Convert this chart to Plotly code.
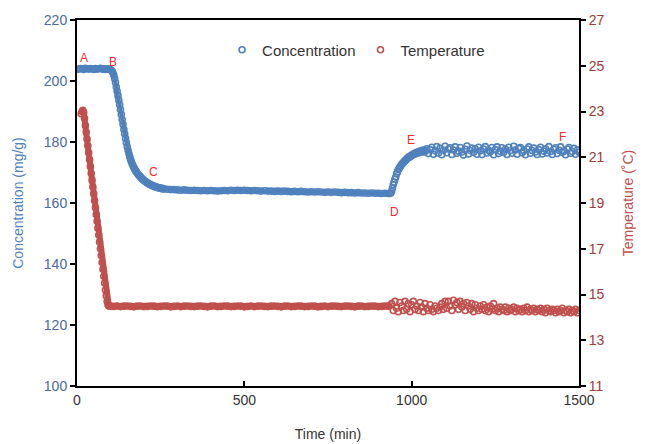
import plotly.graph_objects as go

# ---------------- data ----------------
conc_time = (list(range(5, 101, 5))
             + [102.5 + 2.5 * i for i in range(64)]
             + list(range(270, 931, 10))
             + [935 + 2.5 * i for i in range(43)]
             + list(range(1045, 1501, 5)))

conc_values = [
    # flat start (A-B)
    203.9, 204.1, 204.0, 203.8, 204.2, 204.0, 203.9, 204.1, 204.0, 203.8,
    204.1, 203.9, 204.0, 204.2, 203.9, 204.0, 203.8, 204.0, 203.9, 203.7,
    # drop (B-C)
    203.5, 203.2, 202.7, 201.9, 200.8, 199.5, 198.0, 196.6, 195.2, 193.7,
    192.2, 190.6, 189.0, 187.4, 185.8, 184.2, 182.7, 181.2, 179.8, 178.5,
    177.3, 176.2, 175.2, 174.3, 173.5, 172.8, 172.2, 171.6, 171.1, 170.6,
    170.2, 169.8, 169.4, 169.1, 168.8, 168.5, 168.2, 167.9, 167.7, 167.4,
    167.2, 167.0, 166.8, 166.6, 166.4, 166.3, 166.1, 166.0, 165.9, 165.7,
    165.6, 165.5, 165.4, 165.3, 165.2, 165.1, 165.0, 165.0, 164.9, 164.8,
    164.8, 164.7, 164.7, 164.6,
    # plateau (C-D)
    164.5, 164.4, 164.4, 164.3, 164.2, 164.3, 164.2, 164.1, 164.2, 164.1,
    164.0, 164.1, 164.0, 164.1, 164.0, 163.9, 164.0, 164.1, 164.0, 164.2,
    164.1, 164.2, 164.1, 164.2, 164.1, 164.0, 164.1, 164.0, 163.9, 164.0,
    163.9, 163.9, 163.8, 163.9, 163.8, 163.9, 163.8, 163.7, 163.8, 163.7,
    163.8, 163.7, 163.6, 163.7, 163.6, 163.7, 163.6, 163.5, 163.6, 163.5,
    163.6, 163.5, 163.4, 163.5, 163.4, 163.4, 163.3, 163.4, 163.3, 163.3,
    163.2, 163.3, 163.2, 163.2, 163.1, 163.2, 163.1,
    # rise (D-E)
    163.1, 163.3, 163.8, 164.8, 166.0, 166.9, 167.8, 168.5, 169.6, 170.2,
    171.0, 171.3, 171.9, 172.1, 172.7, 172.9, 173.3, 173.6, 173.8, 174.2,
    174.3, 174.7, 174.8, 175.2, 175.1, 175.5, 175.6, 175.9, 175.8, 176.2,
    176.1, 176.5, 176.3, 176.7, 176.5, 176.9, 176.6, 177.1, 176.8, 177.3,
    176.7, 177.4, 176.9,
    # noisy plateau (E-F)
    177.8, 176.2, 177.5, 178.3, 176.0, 177.1, 178.5, 176.4, 177.9, 175.8,
    177.3, 178.6, 176.5, 177.7, 178.1, 175.9, 177.4, 178.4, 176.3, 177.0,
    178.2, 176.7, 175.7, 177.6, 178.7, 176.1, 177.2, 178.0, 176.6, 177.8,
    176.0, 178.3, 177.1, 175.9, 177.7, 178.5, 176.4, 177.3, 176.8, 178.2,
    175.8, 177.5, 178.4, 176.2, 177.0, 178.1, 176.6, 177.6, 175.9, 178.3,
    177.2, 176.3, 178.6, 177.4, 176.0, 177.9, 178.2, 176.5, 177.1, 175.8,
    177.7, 178.4, 176.3, 177.2, 178.0, 176.7, 175.9, 177.5, 178.3, 176.1,
    177.0, 177.8, 176.4, 178.5, 176.9, 175.9, 177.6, 178.1, 176.2, 177.3,
    178.4, 176.6, 177.0, 175.8, 177.7, 178.2, 176.3, 176.9, 177.9, 176.0,
    177.4, 176.6,
]

temp_time = ([12.5 + 2.5 * i for i in range(36)]
             + list(range(110, 931, 10))
             + list(range(940, 1501, 5)))

temp_values = [
    # cooling ramp
    22.9, 23.0, 23.05, 22.95, 22.7, 22.4, 22.1, 21.8, 21.5, 21.2,
    20.9, 20.6, 20.3, 20.0, 19.7, 19.4, 19.1, 18.8, 18.5, 18.2,
    17.9, 17.6, 17.3, 17.0, 16.7, 16.4, 16.1, 15.8, 15.5, 15.2,
    14.95, 14.7, 14.55, 14.5, 14.5, 14.5,
    # steady
    14.48, 14.5, 14.47, 14.49, 14.5, 14.48, 14.46, 14.49, 14.5, 14.47,
    14.48, 14.5, 14.49, 14.47, 14.48, 14.5, 14.49, 14.46, 14.48, 14.5,
    14.47, 14.49, 14.5, 14.48, 14.47, 14.49, 14.5, 14.48, 14.46, 14.49,
    14.5, 14.47, 14.48, 14.5, 14.49, 14.47, 14.48, 14.5, 14.49, 14.46,
    14.48, 14.5, 14.47, 14.49, 14.5, 14.48, 14.47, 14.49, 14.5, 14.48,
    14.46, 14.49, 14.5, 14.47, 14.48, 14.5, 14.49, 14.47, 14.48, 14.5,
    14.49, 14.46, 14.48, 14.5, 14.47, 14.49, 14.5, 14.48, 14.47, 14.49,
    14.5, 14.48, 14.46, 14.49, 14.5, 14.47, 14.48, 14.5, 14.49, 14.47,
    14.48, 14.5, 14.49,
    # noisy
    14.6, 14.3, 14.7, 14.4, 14.25, 14.65, 14.5, 14.3, 14.7, 14.35, 14.6,
    14.25, 14.55, 14.7, 14.35, 14.5, 14.3, 14.65, 14.45, 14.25, 14.6, 14.4,
    14.3, 14.55, 14.35, 14.25, 14.5, 14.4, 14.3, 14.45, 14.6, 14.35, 14.7,
    14.4, 14.7, 14.5, 14.3, 14.75, 14.55, 14.65, 14.35, 14.7, 14.45, 14.6,
    14.3, 14.65, 14.5, 14.35, 14.6, 14.25, 14.55, 14.4, 14.3, 14.5, 14.35,
    14.55, 14.3, 14.45, 14.25, 14.5, 14.35, 14.6, 14.3, 14.4, 14.25, 14.45,
    14.35, 14.3, 14.45, 14.25, 14.4, 14.3, 14.35, 14.45, 14.25, 14.4, 14.3,
    14.35, 14.25, 14.4, 14.3, 14.45, 14.25, 14.35, 14.3, 14.4, 14.25, 14.35,
    14.3, 14.4, 14.25, 14.35, 14.2, 14.4, 14.3, 14.25, 14.35, 14.3, 14.2,
    14.35, 14.25, 14.3, 14.4, 14.2, 14.3, 14.25, 14.35, 14.2, 14.3, 14.25,
    14.35, 14.2, 14.3,
]

label_text = ["A", "B", "C", "D", "E", "F"]
label_time = [21, 108, 230, 950, 998, 1452]
label_conc = [207.6, 206.3, 170.3, 156.9, 180.5, 181.8]

x_ticks = [0, 500, 1000, 1500]

BLUE = "#4F81BD"
RED = "#C0504D"
FONT = "Liberation Sans, Arial, sans-serif"

# number of leading points that are dense enough to read as a solid band
conc_smooth = sum(1 for t in conc_time if t <= 935)
temp_smooth = sum(1 for t in temp_time if t <= 940)

fig = go.Figure()
# solid under-strokes for the densely sampled stretches
fig.add_trace(go.Scatter(
    x=conc_time[:conc_smooth], y=conc_values[:conc_smooth], mode="lines",
    line=dict(color=BLUE, width=4), showlegend=False, hoverinfo="skip",
))
fig.add_trace(go.Scatter(
    x=temp_time[:temp_smooth], y=temp_values[:temp_smooth], mode="lines", yaxis="y2",
    line=dict(color=RED, width=6), showlegend=False, hoverinfo="skip",
))
fig.add_trace(go.Scatter(
    x=conc_time, y=conc_values, name="Concentration", mode="markers",
    marker=dict(symbol="circle-open", size=6, color=BLUE, line=dict(width=1.6)),
))
fig.add_trace(go.Scatter(
    x=temp_time, y=temp_values, name="Temperature", mode="markers", yaxis="y2",
    marker=dict(symbol="circle-open", size=6, color=RED, line=dict(width=1.6)),
))

for t, xv, yv in zip(label_text, label_time, label_conc):
    fig.add_annotation(x=xv, y=yv, text=t, showarrow=False,
                       font=dict(family=FONT, size=12, color="#FF2A2A"))

fig.update_layout(
    width=646, height=444,
    margin=dict(l=77, r=67, t=20, b=58, autoexpand=False),
    paper_bgcolor="white", plot_bgcolor="white",
    font=dict(family=FONT, size=14, color="#333333"),
    showlegend=True,
    legend=dict(orientation="h", x=0.289, y=0.918, xanchor="left", yanchor="middle",
                bgcolor="rgba(0,0,0,0)", font=dict(size=15, color="#333333"),
                tracegroupgap=0),
    xaxis=dict(range=[0, 1500], tickvals=x_ticks, showgrid=False, zeroline=False,
               automargin=False,
               showline=True, linecolor="black", linewidth=2, mirror=True,
               ticks="inside", ticklen=5, tickcolor="black", tickwidth=1.5,
               tickfont=dict(size=14, color="#333333"),
               title=dict(text="Time (min)", standoff=22, font=dict(size=14, color="#333333"))),
    yaxis=dict(range=[100, 220], dtick=20, showgrid=False, zeroline=False,
               automargin=False,
               showline=True, linecolor="black", linewidth=2,
               ticks="outside", ticklen=5, tickcolor="black", tickwidth=1.5,
               tickfont=dict(size=14, color="#4A6A9C"),
               title=dict(text="Concentration (mg/g)", standoff=17,
                          font=dict(size=14, color=BLUE))),
    yaxis2=dict(range=[11, 27], tick0=11, dtick=2, overlaying="y", side="right",
                showgrid=False, zeroline=False, automargin=False,
                showline=True, linecolor="black", linewidth=2,
                ticks="outside", ticklen=5, tickcolor="black", tickwidth=1.5,
                tickfont=dict(size=14, color="#A03A3A"),
                title=dict(text="Temperature (˚C)", standoff=20,
                           font=dict(size=14, color=RED))),
)

fig.write_html("out.html", config={"displayModeBar": False},
               post_script="document.body.style.margin='0';document.body.style.padding='0';")
